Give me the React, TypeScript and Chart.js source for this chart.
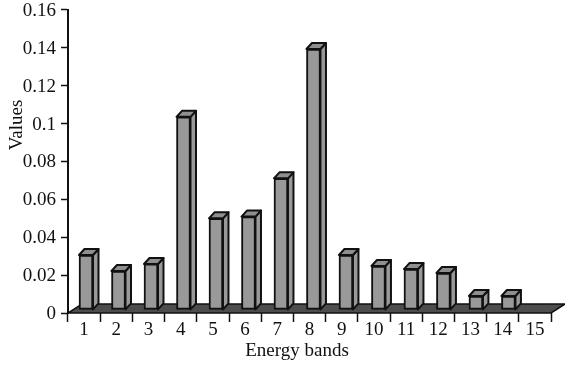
import React, { useEffect, useRef } from "react";
import { Chart, registerables } from "chart.js";

Chart.register(...registerables);

const bands = [1, 2, 3, 4, 5, 6, 7, 8, 9, 10, 11, 12, 13, 14, 15];
const tickLabels = bands.map(String);
const values = [0.0306, 0.0222, 0.0259, 0.1036, 0.05, 0.0509, 0.0711, 0.1394, 0.0306, 0.0248, 0.0232, 0.0211, 0.009, 0.009, 0];
const yTicks = [0, 0.02, 0.04, 0.06, 0.08, 0.1, 0.12, 0.14, 0.16];
const barBase = 0.0019;
const xTitle = "Energy bands";
const yTitle = "Values";

const FONT = "'Liberation Serif', serif";
const FONT_SIZE = 19;
const BLACK = "#111";

const depth3d = {
  id: "depth3d",
  beforeDatasetsDraw(chart: any) {
    const { ctx, scales } = chart;
    const y0 = scales.y.getPixelForValue(0);
    const l = scales.x.left;
    const r = scales.x.right;
    ctx.save();
    ctx.fillStyle = "#4d4d4d";
    ctx.strokeStyle = BLACK;
    ctx.lineWidth = 1.5;
    ctx.beginPath();
    ctx.moveTo(l, y0);
    ctx.lineTo(r, y0);
    ctx.lineTo(r + 14, y0 - 9);
    ctx.lineTo(l + 14, y0 - 9);
    ctx.closePath();
    ctx.fill();
    ctx.stroke();
    ctx.restore();
  },
  afterDatasetsDraw(chart: any) {
    const { ctx } = chart;
    const dx = 5.5;
    const dy = 6;
    const meta = chart.getDatasetMeta(0);
    ctx.save();
    ctx.strokeStyle = BLACK;
    ctx.lineWidth = 2;
    ctx.lineJoin = "round";
    meta.data.forEach((bar: any, i: number) => {
      if (!values[i]) return;
      const p = bar.getProps(["x", "y", "base", "width"], true);
      const left = p.x - p.width / 2;
      const right = p.x + p.width / 2;
      ctx.fillStyle = "#999999";
      ctx.beginPath();
      ctx.moveTo(right, p.y);
      ctx.lineTo(right + dx, p.y - dy);
      ctx.lineTo(right + dx, p.base - dy);
      ctx.lineTo(right, p.base);
      ctx.closePath();
      ctx.fill();
      ctx.stroke();
      ctx.fillStyle = "#8f8f8f";
      ctx.beginPath();
      ctx.moveTo(left, p.y);
      ctx.lineTo(left + dx, p.y - dy);
      ctx.lineTo(right + dx, p.y - dy);
      ctx.lineTo(right, p.y);
      ctx.closePath();
      ctx.fill();
      ctx.stroke();
    });
    ctx.restore();
  },
  afterDraw(chart: any) {
    const { ctx } = chart;
    ctx.save();
    ctx.fillStyle = BLACK;
    ctx.font = `${FONT_SIZE}px ${FONT}`;
    ctx.textAlign = "center";
    ctx.textBaseline = "middle";
    ctx.fillText(xTitle, 297, 351);
    ctx.translate(17, 125);
    ctx.rotate(-Math.PI / 2);
    ctx.fillText(yTitle, 0, 0);
    ctx.restore();
  },
};

export default function App() {
  const ref = useRef<HTMLCanvasElement>(null);
  useEffect(() => {
    document.body.style.margin = "0";
    document.body.style.background = "#fff";
    const chart = new Chart(ref.current!, {
      type: "bar",
      data: {
        labels: tickLabels,
        datasets: [
          {
            data: bands.map((b, i) => ({ x: b, y: values[i] ? [barBase, values[i]] : null })) as any,
            xAxisID: "barX",
            backgroundColor: "#999999",
            borderColor: BLACK,
            borderWidth: 2,
            borderSkipped: false,
            barThickness: 14,
          },
        ],
      },
      plugins: [depth3d],
      options: {
        animation: false,
        responsive: false,
        clip: false as any,
        parsing: { xAxisKey: "x", yAxisKey: "y" } as any,
        layout: { padding: { top: 0, right: 14, left: 0, bottom: 0 } },
        plugins: { legend: { display: false }, tooltip: { enabled: false } },
        scales: {
          x: {
            type: "category",
            labels: tickLabels,
            offset: true,
            grid: { display: true, offset: true, drawOnChartArea: false, drawTicks: true, tickLength: 9, tickColor: BLACK, tickWidth: 1.5 },
            border: { display: false },
            ticks: { color: BLACK, font: { family: FONT, size: FONT_SIZE }, maxRotation: 0, autoSkip: false, padding: -3 },
            afterFit(s: any) { s.height = 53; },
          },
          barX: {
            type: "linear",
            display: false,
            offset: false,
            min: 0.446,
            max: 15.31,
          },
          y: {
            min: 0,
            max: 0.16,
            grid: { display: true, drawOnChartArea: false, drawTicks: true, tickLength: 7, tickColor: BLACK, tickWidth: 1.5 },
            border: { display: true, color: BLACK, width: 2 },
            afterBuildTicks(s: any) { s.ticks = yTicks.map((value) => ({ value })); },
            ticks: {
              color: BLACK,
              font: { family: FONT, size: FONT_SIZE, lineHeight: 0.526 },
              padding: 5,
              labelOffset: 1,
              callback: (v: any) => String(v),
            },
            afterFit(s: any) { s.width = 68; },
          },
        },
      } as any,
    } as any);
    return () => chart.destroy();
  }, []);
  return <canvas ref={ref} width={565} height={366} style={{ display: "block" }} />;
}
